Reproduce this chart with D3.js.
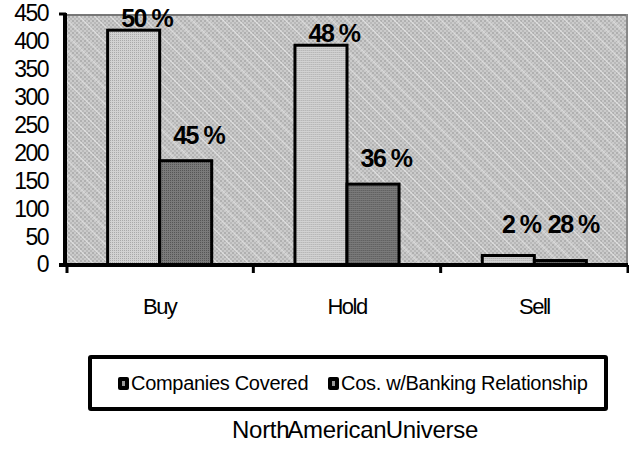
<!DOCTYPE html>
<html>
<head>
<meta charset="utf-8">
<script src="https://cdn.jsdelivr.net/npm/d3@7"></script>
<style>
  body { margin: 0; background: #fff; }
  svg { display: block; font-family: "Liberation Sans", Arial, sans-serif; }
</style>
</head>
<body>
<svg id="chart" width="629" height="453"></svg>
<script>
// chart data
const categories = ["Buy", "Hold", "Sell"];
const seriesNames = ["Companies Covered", "Cos. w/Banking Relationship"];
const covered = [421, 394, 17];
const banking = [187, 145, 8];
const coveredLabels = ["50 %", "48 %", "2 %"];
const bankingLabels = ["45 %", "36 %", "28 %"];
const yTicks = [0, 50, 100, 150, 200, 250, 300, 350, 400, 450];
const title = "North American Universe";

const svg = d3.select("#chart");
const plotLeft = 66, plotRight = 628, plotTop = 14, plotBottom = 265;

const defs = svg.append("defs");

// dithered gray background
const bg = defs.append("pattern").attr("id", "bgPat")
  .attr("width", 4).attr("height", 4).attr("patternUnits", "userSpaceOnUse");
bg.append("rect").attr("width", 4).attr("height", 4).attr("fill", "#cbcbcb");
bg.append("rect").attr("width", 2).attr("height", 2).attr("fill", "#b0b0b0");
bg.append("rect").attr("x", 2).attr("y", 2).attr("width", 2).attr("height", 2).attr("fill", "#b9b9b9");

const stripes = defs.append("pattern").attr("id", "stripePat")
  .attr("width", 11).attr("height", 11).attr("patternUnits", "userSpaceOnUse")
  .attr("patternTransform", "rotate(-45)");
stripes.append("rect").attr("width", 1).attr("height", 11).attr("fill", "#ececec").attr("opacity", 0.7);

const light = defs.append("pattern").attr("id", "lightPat")
  .attr("width", 2).attr("height", 2).attr("patternUnits", "userSpaceOnUse");
light.append("rect").attr("width", 2).attr("height", 2).attr("fill", "#d2d2d2");
light.append("rect").attr("width", 1).attr("height", 1).attr("fill", "#a9a9a9");

const dark = defs.append("pattern").attr("id", "darkPat")
  .attr("width", 2).attr("height", 2).attr("patternUnits", "userSpaceOnUse");
dark.append("rect").attr("width", 2).attr("height", 2).attr("fill", "#7a7a7a");
dark.append("rect").attr("width", 1).attr("height", 1).attr("fill", "#555");

const fills = ["url(#lightPat)", "url(#darkPat)"];

// scales
const x = d3.scaleBand().domain(categories).range([plotLeft, plotRight]).padding(0);
const xs = d3.scaleBand().domain(seriesNames).range([0, x.bandwidth()])
  .paddingInner(0).paddingOuter(0.8);
const y = d3.scaleLinear().domain([0, 450]).range([plotBottom, plotTop]);

// plot area
svg.append("rect").attr("x", plotLeft).attr("y", plotTop)
  .attr("width", plotRight - plotLeft).attr("height", plotBottom - plotTop).attr("fill", "url(#bgPat)");
svg.append("rect").attr("x", plotLeft).attr("y", plotTop)
  .attr("width", plotRight - plotLeft).attr("height", plotBottom - plotTop).attr("fill", "url(#stripePat)");
svg.append("line").attr("x1", plotLeft).attr("x2", plotRight).attr("y1", plotTop + 1).attr("y2", plotTop + 1)
  .attr("stroke", "#777").attr("stroke-width", 2);
svg.append("line").attr("x1", plotRight - 1).attr("x2", plotRight - 1).attr("y1", plotTop).attr("y2", plotBottom)
  .attr("stroke", "#888").attr("stroke-width", 2);

// bars
const rows = categories.map((c, i) => ({ cat: c, vals: [covered[i], banking[i]], labels: [coveredLabels[i], bankingLabels[i]] }));

const groups = svg.append("g").selectAll("g").data(rows).enter().append("g")
  .attr("transform", (d) => `translate(${x(d.cat)},0)`);

groups.selectAll("rect")
  .data((d) => d.vals.map((v, j) => ({ v, j })))
  .enter().append("rect")
  .attr("x", (d) => xs(seriesNames[d.j]))
  .attr("y", (d) => y(d.v))
  .attr("width", xs.bandwidth())
  .attr("height", (d) => y(0) - y(d.v))
  .attr("fill", (d) => fills[d.j])
  .attr("stroke", "#000").attr("stroke-width", 3);

// percent labels
const labelOffset = [3, 17];
groups.selectAll("text")
  .data((d) => d.vals.map((v, j) => ({ v, j, t: d.labels[j] })))
  .enter().append("text")
  .attr("x", (d) => xs(seriesNames[d.j]) + xs.bandwidth() / 2 + 13)
  .attr("y", (d) => Math.min(y(d.v) - labelOffset[d.j], y(0) - 32))
  .attr("text-anchor", "middle")
  .attr("font-size", 25).attr("font-weight", "bold").attr("letter-spacing", -1.5)
  .attr("fill", "#000")
  .text((d) => d.t);

// axes
const yAxis = svg.append("g").attr("transform", `translate(${plotLeft - 1},0)`)
  .call(d3.axisLeft(y).tickValues(yTicks).tickSize(0).tickPadding(17));
yAxis.select(".domain").remove();
yAxis.selectAll("text").attr("font-size", 23).attr("letter-spacing", -1.5)
  .attr("fill", "#000").attr("dy", "0.3em").attr("font-family", "Liberation Sans, Arial, sans-serif");

svg.append("line").attr("x1", plotLeft - 1).attr("x2", plotLeft - 1).attr("y1", plotTop - 1).attr("y2", plotBottom + 2)
  .attr("stroke", "#000").attr("stroke-width", 4);
svg.append("line").attr("x1", 59).attr("x2", plotRight).attr("y1", plotBottom).attr("y2", plotBottom)
  .attr("stroke", "#000").attr("stroke-width", 4);
svg.append("line").attr("x1", 59).attr("x2", plotLeft).attr("y1", plotTop).attr("y2", plotTop)
  .attr("stroke", "#000").attr("stroke-width", 3);

const xAxis = svg.append("g").attr("transform", `translate(0,${plotBottom})`)
  .call(d3.axisBottom(x).tickSize(0).tickPadding(33));
xAxis.select(".domain").remove();
xAxis.selectAll("text").attr("font-size", 22).attr("letter-spacing", -1.5)
  .attr("fill", "#000").attr("font-family", "Liberation Sans, Arial, sans-serif");

// category separators
svg.append("g").selectAll("line")
  .data(categories.concat(["end"]))
  .enter().append("line")
  .attr("x1", (d, i) => (i < categories.length ? x(d) : plotRight) + (i === 0 ? 1 : 0))
  .attr("x2", (d, i) => (i < categories.length ? x(d) : plotRight) + (i === 0 ? 1 : 0))
  .attr("y1", plotBottom).attr("y2", plotBottom + 8)
  .attr("stroke", "#000").attr("stroke-width", 3);

// legend
svg.append("rect").attr("x", 90).attr("y", 357).attr("width", 516).attr("height", 52)
  .attr("fill", "#fff").attr("stroke", "#000").attr("stroke-width", 4).attr("rx", 1);

const legendX = [118, 328];
const leg = svg.append("g").selectAll("g").data(seriesNames).enter().append("g")
  .attr("transform", (d, i) => `translate(${legendX[i]},377)`);
leg.append("rect").attr("width", 11).attr("height", 13).attr("rx", 2).attr("fill", "#000");
leg.append("rect").attr("x", 4).attr("y", 4).attr("width", 3).attr("height", 5).attr("fill", "#999");
leg.append("text").attr("x", 13).attr("y", 13)
  .attr("font-size", 20).attr("letter-spacing", -0.3).attr("fill", "#000")
  .text((d) => d);

// title
svg.append("text").attr("x", 355).attr("y", 438).attr("text-anchor", "middle")
  .attr("font-size", 24).attr("word-spacing", -7).attr("letter-spacing", -0.3).attr("fill", "#000")
  .text(title);
</script>
</body>
</html>
